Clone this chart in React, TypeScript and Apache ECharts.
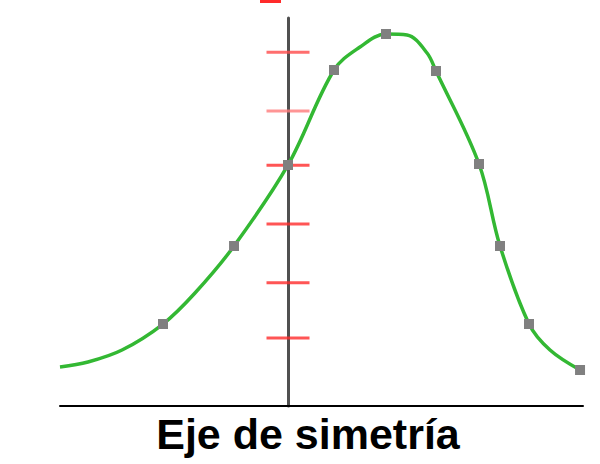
import React, { useEffect, useRef } from "react";
import * as echarts from "echarts";

// Curve (bell-shaped, skewed), x relative to the symmetry axis
const curveX = [-4.0, -3.509, -2.912, -2.193, -1.632, -0.947, 0.0, 0.807, 1.263, 1.719, 2.088, 2.439, 2.596, 3.351, 3.719, 4.228, 4.596, 5.123];
const curveY = [0.683, 0.771, 0.981, 1.437, 1.98, 2.804, 4.224, 5.889, 6.292, 6.52, 6.502, 6.187, 5.871, 4.241, 2.804, 1.437, 0.981, 0.631];
// Which of the points carry a square marker
const markerShown = [false, false, false, true, false, true, true, true, false, true, false, false, true, true, true, true, false, true];

// Red tick marks on the symmetry axis
const tickY = [1.19, 2.16, 3.19, 4.22, 5.17, 6.2];
const tickColors = ["#ff2a2a", "#ff2a2a", "#ff2a2a", "#ff2a2a", "#ff7a7a", "#ff4a4a"];

const axisLabel = "Eje de simetría";

export default function App() {
  const ref = useRef<HTMLDivElement>(null);
  useEffect(() => {
    if (!ref.current) return;
    const chart = echarts.init(ref.current, undefined, { renderer: "svg" });
    chart.setOption({
      animation: false,
      backgroundColor: "#ffffff",
      grid: { left: 60, right: 17, top: 18, bottom: 58 },
      xAxis: {
        type: "value",
        min: -4,
        max: 5.175,
        axisLine: { show: true, onZero: false, lineStyle: { color: "#000", width: 2 } },
        axisTick: { show: false },
        axisLabel: { show: false },
        splitLine: { show: false },
      },
      yAxis: {
        type: "value",
        min: 0,
        max: 6.8,
        axisLine: { show: true, onZero: true, lineStyle: { color: "#505050", width: 3 } },
        axisTick: { show: false },
        axisLabel: { show: false },
        splitLine: { show: false },
      },
      graphic: [
        { type: "rect", shape: { x: 260, y: 0, width: 21, height: 3 }, style: { fill: "#ff2a2a" } },
        {
          type: "text",
          x: 308,
          y: 434,
          style: {
            text: axisLabel,
            font: 'bold 43px "Liberation Sans", Arial, sans-serif',
            fill: "#000",
            textAlign: "center",
            textVerticalAlign: "middle",
          },
        },
      ],
      series: [
        {
          type: "scatter",
          data: tickY.map((y, i) => ({ value: [0, y], itemStyle: { color: tickColors[i] } })),
          symbol: "rect",
          symbolSize: [43, 3],
          z: 1,
        },
        {
          type: "line",
          smooth: 0.35,
          data: curveX.map((x, i) => ({
            value: [x, curveY[i]],
            symbol: markerShown[i] ? "rect" : "none",
          })),
          symbol: "rect",
          symbolSize: 10,
          showAllSymbol: true,
          lineStyle: { color: "#33b833", width: 3.5 },
          itemStyle: { color: "#808080", borderWidth: 0 },
          z: 3,
        },
      ],
    });
    return () => chart.dispose();
  }, []);
  return <div ref={ref} style={{ width: 600, height: 464, position: "absolute", left: 0, top: 0 }} />;
}
